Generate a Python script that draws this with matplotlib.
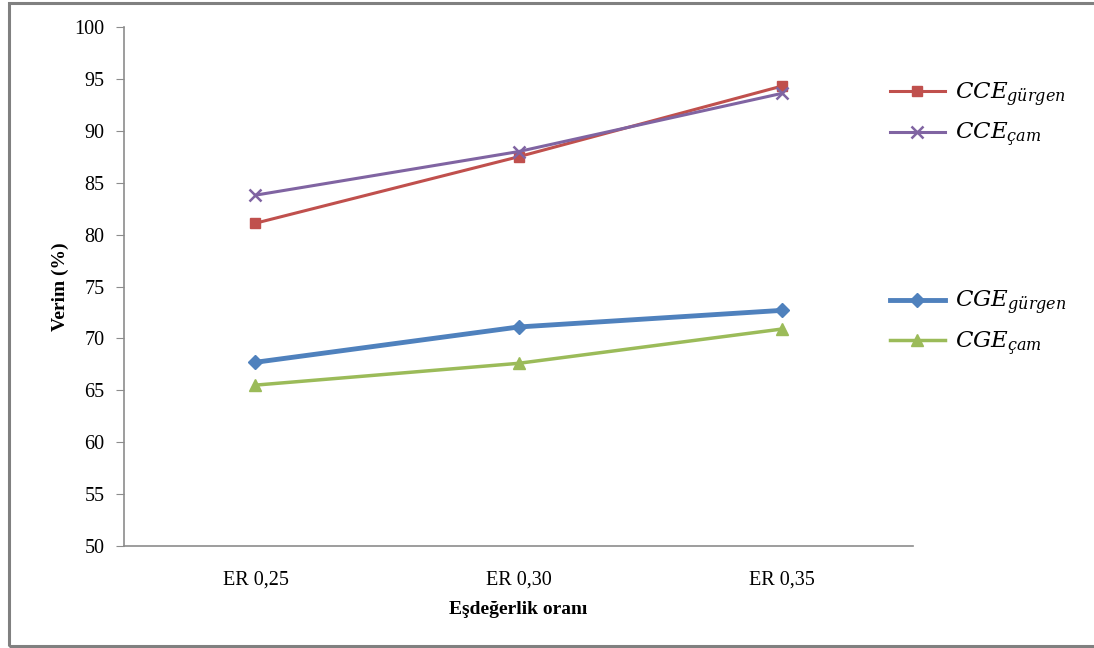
import matplotlib
matplotlib.use("Agg")
import matplotlib.pyplot as plt
from matplotlib.patches import Rectangle

plt.rcParams['font.family'] = ['Liberation Serif', 'DejaVu Serif']
plt.rcParams['mathtext.fontset'] = 'dejavuserif'

categories = ['ER 0,25', 'ER 0,30', 'ER 0,35']
cce_gurgen = [81.1, 87.5, 94.3]
cce_cam = [83.8, 88.0, 93.6]
cge_gurgen = [67.7, 71.1, 72.7]
cge_cam = [65.5, 67.6, 70.9]
yticks = list(range(50, 101, 5))

fig = plt.figure(figsize=(10.94, 6.48), dpi=100)
ax = fig.add_axes([0.1133, 0.1574, 0.7213, 0.8009])

x = range(len(categories))
l1, = ax.plot(x, cce_gurgen, color='#C0504D', lw=2.2, marker='s', ms=7,
              label=r'$CCE_{gürgen}$')
l2, = ax.plot(x, cce_cam, color='#8064A2', lw=2.2, marker='x', ms=8, mew=1.8,
              label=r'$CCE_{çam}$')
l3, = ax.plot(x, cge_gurgen, color='#4F81BD', lw=3.5, marker='D', ms=7,
              label=r'$CGE_{gürgen}$')
l4, = ax.plot(x, cge_cam, color='#9BBB59', lw=2.5, marker='^', ms=9,
              label=r'$CGE_{çam}$')

ax.set_xlim(-0.5, 2.5)
ax.set_ylim(50, 100)
ax.set_yticks(yticks)
ax.set_xticks(list(x))
ax.set_xticklabels(categories)

for s in ['top', 'right']:
    ax.spines[s].set_visible(False)
for s in ['left', 'bottom']:
    ax.spines[s].set_color('#8C8C8C')
    ax.spines[s].set_linewidth(1.2)
ax.tick_params(axis='y', length=6, color='#8C8C8C', labelsize=14.5, pad=8)
ax.tick_params(axis='x', length=0, labelsize=14.5, pad=18)

ax.set_ylabel('Verim (%)', fontsize=14, fontweight='bold', labelpad=4)
ax.set_xlabel('Eşdeğerlik oranı', fontsize=14, fontweight='bold', labelpad=8)

leg_kw = dict(frameon=False, fontsize=16.5, handlelength=2.4, handletextpad=0.45,
              labelspacing=0.55, borderaxespad=0, loc='upper left')
leg1 = fig.legend(handles=[l1, l2], bbox_to_anchor=(0.805, 0.890), **leg_kw)
leg2 = fig.legend(handles=[l3, l4], bbox_to_anchor=(0.805, 0.568), **leg_kw)

# outer frame around the chart area
fig.patches.append(Rectangle((0.0085, 0.003), 1.2, 0.992, transform=fig.transFigure,
                             fill=False, edgecolor='#808080', lw=2.2))

fig.savefig('out.png', dpi=100)
